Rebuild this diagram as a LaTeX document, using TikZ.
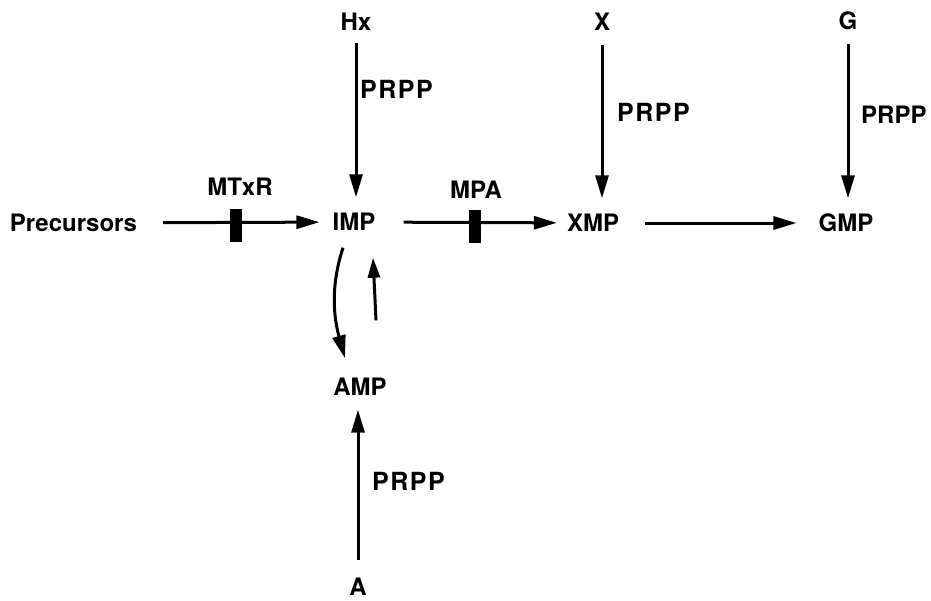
\documentclass[tikz,border=0pt]{standalone}
\usepackage{fontspec}
\setmainfont{TeX Gyre Heros}
\usetikzlibrary{arrows.meta}

\begin{document}
\begin{tikzpicture}[x=1pt,y=-1pt,font=\fontsize{24}{28}\selectfont\bfseries]
    \tikzset{
        metab/.style={inner sep=0pt,text height=17pt,text depth=0pt},
        cofac/.style={inner sep=0pt,anchor=west,text height=17pt,text depth=0pt,
            font=\fontsize{25}{28}\selectfont\bfseries\addfontfeatures{LetterSpace=6}},
        flow/.style={line width=3pt,-{Triangle[length=23pt,width=13pt]}},
        blocker/.style={fill=black,draw=none,minimum width=12pt,minimum height=33pt,inner sep=0pt}
    }
    \useasboundingbox (0,0) rectangle (931,600);

    % main row
    \node[metab] (prec) at (73.5,223) {Precursors};
    \node[metab] (imp) at (354,222) {IMP};
    \node[metab] (xmp) at (593,223) {XMP};
    \node[metab] (gmp) at (846,223) {GMP};
    \node[metab] (amp) at (360,387) {AMP};

    % bases
    \node[metab] (hx) at (356,22) {Hx};
    \node[metab] (x) at (602,22) {X};
    \node[metab] (g) at (848,21) {G};
    \node[metab] (a) at (358,587) {A};

    % blocked steps
    \node[blocker] (mtxrbar) at (236,225) {};
    \node[blocker] (mpabar) at (475,226) {};
    \node[metab] (mtxr) at (240,187) {MTxR};
    \node[metab] (mpa) at (476,190) {MPA};

    % PRPP
    \node[cofac] (prpp1) at (360,90) {PRPP};
    \node[cofac] (prpp2) at (617,113) {PRPP};
    \node[cofac,font=\fontsize{24}{28}\selectfont\bfseries] (prpp3) at (861,115) {PRPP};
    \node[cofac] (prpp4) at (372,482) {PRPP};

    \draw[flow,shorten <=26pt,shorten >=13pt] (prec) -- (imp);
    \draw[flow,shorten <=28pt,shorten >=10pt] (imp) -- (xmp);
    \draw[flow,shorten <=26pt,shorten >=22pt] (xmp) -- (gmp);

    \draw[flow,shorten <=12pt,shorten >=16pt] (hx.south) -- (hx.south |- imp.north);
    \draw[flow,shorten <=14pt,shorten >=16pt] (x.south) -- (x.south |- xmp.north);
    \draw[flow,shorten <=14pt,shorten >=16pt] (g.south) -- (g.south |- gmp.north);
    \draw[flow,shorten <=18pt,shorten >=14pt] (a.north) -- (a.north |- amp.south);

    % IMP <-> AMP
    \draw[flow] ([xshift=-11pt,yshift=-17pt]imp.south)
        .. controls +(-13,40) and +(-11,-40) .. ([xshift=-15pt,yshift=20pt]amp.north);
    \draw[flow,-{Triangle[length=20pt,width=12pt]}] ([xshift=16pt,yshift=58pt]amp.north) -- ([xshift=19pt,yshift=-27pt]imp.south);
\end{tikzpicture}
\end{document}
